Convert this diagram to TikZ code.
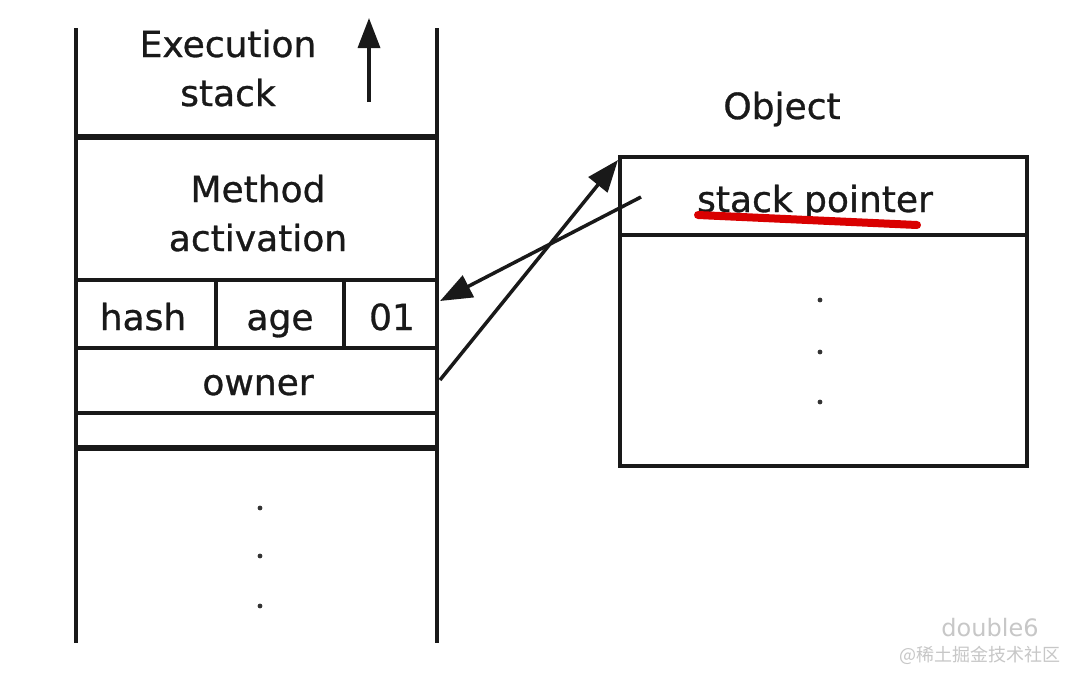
\documentclass[tikz,border=0pt]{standalone}
\usepackage{fontspec}
\setmainfont{DejaVu Sans}
\newfontfamily\lblfont[FakeBold=0.8]{DejaVu Sans}
\newfontfamily\cjk{Noto Sans CJK SC}
\usetikzlibrary{arrows.meta}
\begin{document}
\begin{tikzpicture}[x=1pt,y=-1pt,
  wall/.style={line width=3.5pt,black!90},
  thickwall/.style={line width=5.5pt,black!90},
  lbl/.style={font=\lblfont\fontsize{36}{49}\selectfont,text=black!90,inner sep=0pt,align=center,anchor=base},
  ptr/.style={line width=3.5pt,black!90,-{Triangle[length=32pt,width=24pt]}},
  wm/.style={text=black!22,inner sep=0pt}]
\useasboundingbox[fill=white] (0,0) rectangle (1080,681);
% stack walls
\draw[wall] (76,28) -- (76,643);
\draw[wall] (437,28) -- (437,643);
\draw[thickwall] (76,137) -- (437,137);
\draw[wall] (76,280) -- (437,280);
\draw[wall] (76,348) -- (437,348);
\draw[wall] (76,413) -- (437,413);
\draw[thickwall] (76,448) -- (437,448);
\draw[wall] (216,280) -- (216,348);
\draw[wall] (344,280) -- (344,348);
% texts in stack
\node[lbl] (exec) at (228,57) {Execution};
\node[lbl] (exec2) at (228,106) {stack};
\coordinate (upS) at (369,102);
\coordinate (upE) at (369,18);
\draw[line width=3.5pt,black!90,-{Triangle[length=30pt,width=22pt]}] (upS) -- (upE);
\node[lbl] (meth) at (258,202) {Method};
\node[lbl] (meth2) at (258,251) {activation};
\node[lbl] (hash) at (143,330) {hash};
\node[lbl] (age) at (280,330) {age};
\node[lbl] (bits) at (392,330) {01};
\node[lbl] (owner) at (258,395) {owner};
\foreach \yy in {508,556,606} \fill[black!80] (260,\yy) circle (2.4pt);
% object
\node[lbl] (objlbl) at (782,119) {Object};
\draw[wall] (620,157) rectangle (1027,466);
\draw[wall] (620,235) -- (1027,235);
\node[lbl] (sp) at (815,212) {stack pointer};
\draw[line width=8pt,red!85!black,line cap=round] (698,215) -- (917,225);
\foreach \yy in {300,352,402} \fill[black!80] (820,\yy) circle (2.4pt);
% pointers
\coordinate (ownR) at (440,380);
\coordinate (objTL) at (618,160);
\coordinate (spL) at (641,197);
\coordinate (bitsR) at (440,301);
\draw[ptr] (ownR) -- (objTL);
\draw[ptr] (spL) -- (bitsR);
% watermark
\node[wm,font=\fontsize{24}{24}\selectfont] (wm1) at (990,628) {double6};
\node[wm,font=\cjk\fontsize{18}{18}\selectfont] (wm2) at (980,655) {@稀土掘金技术社区};
\end{tikzpicture}
\end{document}
